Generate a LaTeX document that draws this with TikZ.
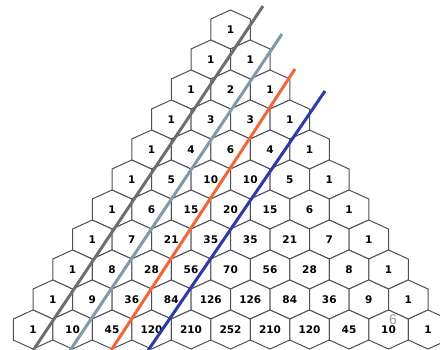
\documentclass[tikz,border=0pt]{standalone}
\usepackage{fontspec}
\setmainfont{DejaVu Sans}
\newfontfamily\markfont{Liberation Sans}
\definecolor{edgec}{HTML}{50505A}
\definecolor{lgray}{HTML}{6E6E6E}
\definecolor{lteal}{HTML}{7B9DA3}
\definecolor{lorange}{HTML}{F0683A}
\definecolor{lblue}{HTML}{2A3CA6}
\begin{document}
\begin{tikzpicture}[x=1pt,y=-1pt,
  hexedge/.style={draw=edgec, line width=1pt, fill=white, line join=miter},
  num/.style={font=\fontsize{10.5}{12}\selectfont\bfseries, text=black, inner sep=0pt},
  diag/.style={line width=3pt, line cap=butt},
  markstyle/.style={font=\markfont\fontsize{14}{16}\selectfont, text=black!40, inner sep=0pt}]
\useasboundingbox (0,0) rectangle (440,349);
\fill[white] (0,0) rectangle (440,349);
\begin{scope}
\clip (0,0) rectangle (440,349);
\foreach \n/\vals in {0/{1},1/{1,1},2/{1,2,1},3/{1,3,3,1},4/{1,4,6,4,1},5/{1,5,10,10,5,1},
  6/{1,6,15,20,15,6,1},7/{1,7,21,35,35,21,7,1},8/{1,8,28,56,70,56,28,8,1},
  9/{1,9,36,84,126,126,84,36,9,1},10/{1,10,45,120,210,252,210,120,45,10,1}}{
  \foreach \v [count=\j] in \vals {
    \pgfmathsetmacro\cx{230.5+(\j-1-\n/2)*39.5}
    \pgfmathsetmacro\cy{29.5+30*\n}
    \draw[hexedge] (\cx,\cy) ++(0,-19.5) -- ++(19.75,9) -- ++(0,21) -- ++(-19.75,9)
      -- ++(-19.75,-9) -- ++(0,-21) -- cycle;
    \node[num] (c-\n-\j) at (\cx,\cy) {\v};
  }
}
\coordinate (g1) at (263,6);   \coordinate (g2) at (32,352);
\coordinate (t1) at (282,34);  \coordinate (t2) at (69,352);
\coordinate (o1) at (295,69);  \coordinate (o2) at (110,352);
\coordinate (b1) at (325,91);  \coordinate (b2) at (147,352);
\draw[diag, lgray] (g1) -- (g2);
\draw[diag, lteal] (t1) -- (t2);
\draw[diag, lorange] (o1) -- (o2);
\draw[diag, lblue] (b1) -- (b2);
\node[markstyle] (mark) at (393,320) {6};
\end{scope}
\end{tikzpicture}
\end{document}
